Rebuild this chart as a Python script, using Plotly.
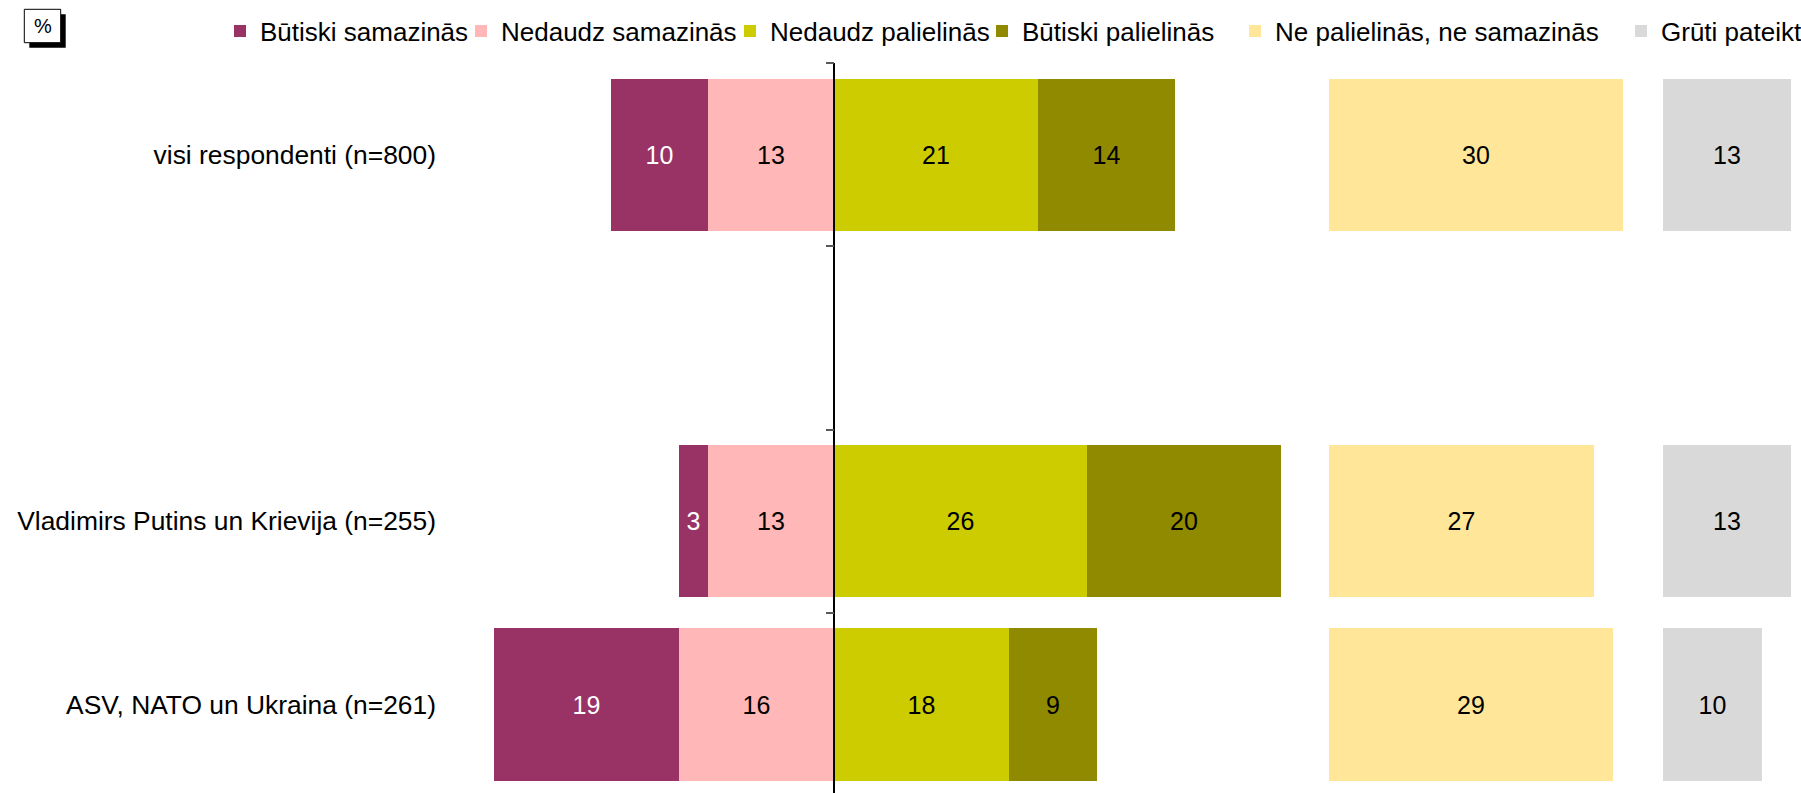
import plotly.graph_objects as go

# ---------------- data ----------------
categories = ["visi respondenti (n=800)", "Vladimirs Putins un Krievija (n=255)", "ASV, NATO un Ukraina (n=261)"]
butiski_samazinas = [10, 3, 19]
nedaudz_samazinas = [13, 13, 16]
nedaudz_palielinas = [21, 26, 18]
butiski_palielinas = [14, 20, 9]
ne_ne = [30, 27, 29]
gruti_pateikt = [13, 13, 10]

series_names = ["Būtiski samazinās", "Nedaudz samazinās", "Nedaudz palielinās",
                "Būtiski palielinās", "Ne palielinās, ne samazinās", "Grūti pateikt"]
colors = ["#993366", "#FFB7B7", "#CCCC00", "#8F8A00", "#FFE699", "#D9D9D9"]
text_colors = ["#FFFFFF", "#000000", "#000000", "#000000", "#000000", "#000000"]

# ---------------- layout constants ----------------
W, H = 1801, 793
TOP = 63
PLOT_H = H - TOP
row_pos = [0, 2, 3]          # row 1 is an empty spacer band
band_edges = [-0.5, 0.5, 1.5, 2.5]
FONT = "Liberation Sans, Arial, sans-serif"

def px_x(p):
    return p / W

def px_y(p):
    return (H - p) / PLOT_H

zero_px = 834.3
k1 = 9.72
x1_left, x1_right = 440, 1300
x2_left, x2_right, k2 = 1329, 1650, 9.8
x3_left, x3_right, k3 = 1663, 1801, 9.85

fig = go.Figure()

def add_bar(vals, idx, xaxis, sign=1):
    fig.add_trace(go.Bar(
        y=row_pos, x=[sign * v for v in vals], orientation="h",
        name=series_names[idx], marker=dict(color=colors[idx], line=dict(width=0)),
        text=[str(v) for v in vals], textposition="inside", insidetextanchor="middle",
        textfont=dict(color=text_colors[idx], size=25, family=FONT),
        width=0.83, xaxis=xaxis, yaxis="y", legend=("legend" if idx == 0 else f"legend{idx+1}"),
        hoverinfo="skip", cliponaxis=False,
    ))

# negative stack: nearest-zero first
add_bar(nedaudz_samazinas, 1, "x", -1)
add_bar(butiski_samazinas, 0, "x", -1)
add_bar(nedaudz_palielinas, 2, "x", 1)
add_bar(butiski_palielinas, 3, "x", 1)
add_bar(ne_ne, 4, "x2", 1)
add_bar(gruti_pateikt, 5, "x3", 1)

# invisible helper trace so the centre (zero) axis with its band ticks is drawn
fig.add_trace(go.Scatter(x=[0], y=[row_pos[0]], xaxis="x", yaxis="y2", mode="markers",
                         marker=dict(size=1, opacity=0), showlegend=False, hoverinfo="skip"))

yrange = [3.483, -0.5]

legend_text_x = [251, 492, 761, 1013, 1266, 1652]
legend_y = px_y(31)
legends = {}
for i, tx in enumerate(legend_text_x):
    key = "legend" if i == 0 else f"legend{i+1}"
    legends[key] = dict(
        x=px_x(tx - 31), xanchor="left", y=legend_y, yanchor="middle",
        orientation="h", bgcolor="rgba(0,0,0,0)", borderwidth=0,
        font=dict(size=26, family=FONT, color="#000000"),
    )

fig.update_layout(
    width=W, height=H,
    margin=dict(l=0, r=0, t=TOP, b=0, pad=0, autoexpand=False),
    paper_bgcolor="#FFFFFF", plot_bgcolor="#FFFFFF",
    barmode="relative", bargap=0,
    showlegend=True,
    font=dict(family=FONT, size=26, color="#000000"),
    xaxis=dict(domain=[px_x(x1_left), px_x(x1_right)],
               range=[-(zero_px - x1_left) / k1, (x1_right - zero_px) / k1],
               visible=False, anchor="y", automargin=False),
    xaxis2=dict(domain=[px_x(x2_left), px_x(x2_right)],
                range=[0, (x2_right - x2_left) / k2],
                visible=False, anchor="y", automargin=False),
    xaxis3=dict(domain=[px_x(x3_left), px_x(x3_right)],
                range=[0, (x3_right - x3_left) / k3],
                visible=False, anchor="y", automargin=False),
    yaxis=dict(range=yrange, autorange=False, tickmode="array", tickvals=row_pos,
               ticktext=categories, ticks="", showline=False, showgrid=False,
               zeroline=False, tickfont=dict(size=26.4, family=FONT, color="#000000"),
               ticklabelstandoff=3, anchor="x", automargin=False),
    yaxis2=dict(range=yrange, autorange=False, overlaying="y", anchor="free",
                position=px_x(zero_px), side="left", showline=True,
                linecolor="#000000", linewidth=1.5, ticks="outside", ticklen=8,
                tickwidth=1.5, tickcolor="#595959", layer="above traces",
                tickmode="array", tickvals=band_edges,
                showticklabels=False, showgrid=False, zeroline=False, automargin=False),
    **legends,
)

# "%" box with shadow
fig.add_shape(type="rect", xref="paper", yref="paper",
              x0=px_x(29.3), x1=px_x(65.7), y0=px_y(47.7), y1=px_y(14.3),
              fillcolor="#000000", line=dict(width=0), layer="above")
fig.add_shape(type="rect", xref="paper", yref="paper",
              x0=px_x(24.3), x1=px_x(60.7), y0=px_y(42.7), y1=px_y(9.3),
              fillcolor="#FFFFFF", line=dict(color="#000000", width=1), layer="above")
fig.add_annotation(text="%", xref="paper", yref="paper", x=px_x(42.5), y=px_y(26),
                   xanchor="center", yanchor="middle", showarrow=False,
                   font=dict(size=20, family=FONT, color="#000000"))

fig.write_html("out.html", config={"displayModeBar": False},
               post_script="document.body.style.margin='0';document.body.style.overflow='hidden';")
